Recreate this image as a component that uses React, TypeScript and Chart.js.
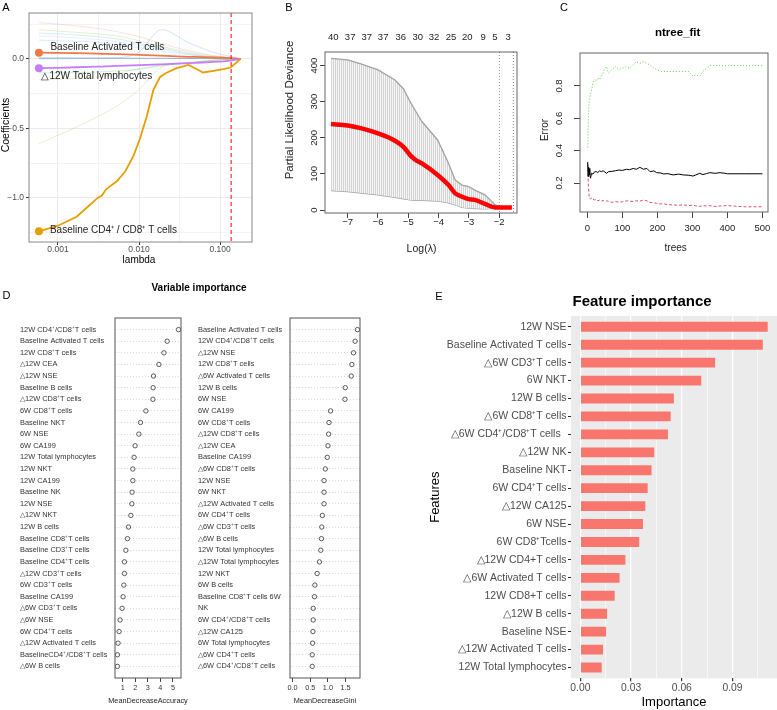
import React, { useEffect, useRef } from "react";
import { Chart, registerables } from "chart.js";

Chart.register(...registerables);

const FONT = "'Liberation Sans', Arial, Helvetica, sans-serif";

/* ---------------- Panel A: LASSO coefficient paths ---------------- */
const lambdaA = [0.000582, 0.001, 0.0017, 0.00237, 0.00309, 0.00347, 0.00389, 0.00531, 0.00676, 0.00851, 0.0102, 0.01245, 0.0151, 0.0182, 0.0219, 0.0292, 0.0407, 0.049, 0.0617, 0.0832, 0.1096, 0.1355, 0.18];
const coefCd4Cd8A = [-1.24, -1.2, -1.135, -1.06, -1.0, -0.985, -0.94, -0.88, -0.81, -0.7, -0.58, -0.415, -0.22, -0.13, -0.1, -0.067, -0.043, -0.067, -0.098, -0.086, -0.074, -0.062, 0];
const coefActivatedA = [0.045, 0.043, 0.041, 0.04, 0.038, 0.037, 0.036, 0.034, 0.032, 0.03, 0.029, 0.027, 0.025, 0.023, 0.021, 0.018, 0.015, 0.014, 0.012, 0.01, 0.008, 0.005, 0];
const coefTotalLymA = [-0.067, -0.064, -0.06, -0.058, -0.056, -0.055, -0.054, -0.051, -0.049, -0.047, -0.045, -0.043, -0.041, -0.039, -0.037, -0.034, -0.031, -0.029, -0.026, -0.022, -0.018, -0.012, 0];
const lambdaFaintA = [0.000582, 0.001, 0.003, 0.006, 0.01, 0.019, 0.04, 0.08, 0.18];
const faintPinkA = [0.26, 0.25, 0.22, 0.19, 0.16, 0.11, 0.06, 0.025, 0];
const faintGreenA = [0.21, 0.2, 0.18, 0.16, 0.13, 0.09, 0.05, 0.02, 0];
const faintTealA = [0.185, 0.18, 0.16, 0.14, 0.11, 0.08, 0.04, 0.015, 0];
const faintLilacA = [0.165, 0.16, 0.14, 0.12, 0.1, 0.07, 0.035, 0.012, 0];
const faintBlueA = [0.135, 0.13, 0.12, 0.1, 0.08, 0.055, 0.03, 0.01, 0];
const faintPeakA = [0.0, 0.0, 0.005, 0.01, 0.05, 0.21, 0.12, 0.05, 0];
const faintSteelA = [0.006, 0.006, 0.005, 0.005, 0.004, 0.004, 0.003, 0.002, 0];
const faintNeg1A = [-0.1, -0.1, -0.095, -0.085, -0.075, -0.05, -0.03, -0.012, 0];
const faintNeg2A = [-0.15, -0.145, -0.13, -0.1, -0.07, -0.045, -0.025, -0.01, 0];
const faintDeepA = [-0.61, -0.55, -0.42, -0.32, -0.22, -0.06, -0.03, -0.01, 0];
const lambdaMinA = 0.137;
const lambdaTickA = [0.001, 0.01, 0.1];
const lambdaTickLabelA = ["0.001", "0.010", "0.100"];
const lambdaMinorA = [0.003162, 0.03162];
const coefTickA = [-1, -0.5, 0];
const coefTickLabelA = ["\u22121.0", "\u22120.5", "0.0"];
const coefMinorA = [-1.25, -0.75, -0.25, 0.25];
const pathLabelsA = ["Baseline Activated T cells", "\u25B312W Total lymphocytes", "Baseline CD4\u207A / CD8\u207A T cells"];

/* ---------------- Panel B: cv.glmnet deviance ---------------- */
const logLambdaB = [-7.55, -7.0, -6.54, -6.0, -5.44, -5.16, -4.94, -4.78, -4.55, -4.03, -3.67, -3.45, -3.23, -3.01, -2.8, -2.47, -2.13, -2.0, -1.58];
const devMeanB = [238, 234, 226, 212, 192, 175, 152, 140, 129, 97, 69, 46, 37, 30, 28, 17, 7, 7, 7];
const devUpperB = [420, 416, 404, 388, 360, 336, 300, 277, 245, 194, 129, 83, 69, 65, 55, 42, 14, 9, 7];
const devLowerB = [54, 51, 47, 42, 35, 31, 28, 27, 27, 25, 20, 14, 7, 5, 4, 3, 5, 6, 7];
const logLambdaTickB = [-7, -6, -5, -4, -3, -2];
const devTickB = [0, 100, 200, 300, 400];
const nonzeroCountB = ["40", "37", "37", "37", "36", "30", "32", "25", "20", "9", "5", "3"];
const nonzeroPosB = [-7.475, -6.92, -6.37, -5.83, -5.25, -4.69, -4.15, -3.59, -3.05, -2.53, -2.14, -1.7];
const lambdaLinesB = [-1.99, -1.53];

/* ---------------- Panel C: random forest error ---------------- */
const treesC = [1, 2, 3, 5, 7, 9, 12, 16, 21, 26, 30, 35, 40, 45, 50, 55, 60, 70, 80, 90, 100, 112, 120, 131, 140, 150, 160, 170, 179, 190, 198, 210, 217, 230, 245, 260, 274, 290, 302, 310, 321, 330, 340, 350, 365, 379, 393, 400, 450, 500];
const oobErrC = [0.33, 0.24, 0.3, 0.29, 0.25, 0.23, 0.26, 0.255, 0.27, 0.27, 0.265, 0.275, 0.27, 0.276, 0.268, 0.26, 0.27, 0.272, 0.276, 0.28, 0.278, 0.285, 0.282, 0.29, 0.285, 0.297, 0.285, 0.29, 0.27, 0.275, 0.264, 0.262, 0.256, 0.258, 0.25, 0.255, 0.25, 0.248, 0.243, 0.25, 0.26, 0.252, 0.258, 0.264, 0.26, 0.264, 0.26, 0.257, 0.257, 0.257];
const class1ErrC = [0.32, 0.25, 0.18, 0.12, 0.105, 0.1, 0.11, 0.1, 0.095, 0.1, 0.09, 0.095, 0.088, 0.092, 0.085, 0.09, 0.087, 0.08, 0.085, 0.082, 0.084, 0.09, 0.088, 0.085, 0.09, 0.088, 0.095, 0.09, 0.08, 0.078, 0.074, 0.07, 0.072, 0.066, 0.065, 0.062, 0.065, 0.06, 0.064, 0.058, 0.055, 0.06, 0.058, 0.06, 0.055, 0.058, 0.06, 0.06, 0.053, 0.053];
const class2ErrC = [0.42, 0.5, 0.6, 0.71, 0.73, 0.75, 0.77, 0.82, 0.84, 0.83, 0.85, 0.84, 0.86, 0.88, 0.91, 0.92, 0.88, 0.9, 0.92, 0.9, 0.91, 0.92, 0.91, 0.93, 0.95, 0.94, 0.95, 0.94, 0.93, 0.91, 0.9, 0.89, 0.89, 0.89, 0.89, 0.89, 0.89, 0.89, 0.86, 0.87, 0.86, 0.89, 0.91, 0.926, 0.926, 0.926, 0.926, 0.926, 0.926, 0.926];
const treeTickC = [0, 100, 200, 300, 400, 500];
const errTickC = [0.2, 0.4, 0.6, 0.8];

/* ---------------- Panel D: variable importance ---------------- */
const accNames = ["12W CD4\u207A/CD8\u207AT cells", "Baseline Activated T cells", "12W CD8\u207AT cells", "\u25B312W CEA", "\u25B312W NSE", "Baseline B cells", "\u25B312W CD8\u207AT cells", "6W CD8\u207AT cells", "Baseline NKT", "6W NSE", "6W CA199", "12W Total lymphocytes", "12W NKT", "12W CA199", "Baseline NK", "12W NSE", "\u25B312W NKT", "12W B cells", "Baseline CD8\u207AT cells", "Baseline CD3\u207AT cells", "Baseline CD4\u207AT cells", "\u25B312W CD3\u207AT cells", "6W CD3\u207AT cells", "Baseline CA199", "\u25B36W CD3\u207AT cells", "\u25B36W NSE", "6W CD4\u207AT cells", "\u25B312W Activated T cells", "BaselineCD4\u207A/CD8\u207AT cells", "\u25B36W B cells"];
const accValues = [5.45, 4.54, 4.28, 3.88, 3.45, 3.42, 3.4, 2.84, 2.41, 2.28, 1.98, 1.9, 1.8, 1.8, 1.74, 1.72, 1.64, 1.45, 1.37, 1.24, 1.13, 1.13, 1.08, 1.02, 0.94, 0.78, 0.7, 0.62, 0.57, 0.57];
const accTicks = [1, 2, 3, 4, 5];
const accTickLabels = ["1", "2", "3", "4", "5"];
const giniNames = ["Baseline Activated T cells", "12W CD4\u207A/CD8\u207AT cells", "\u25B312W NSE", "12W CD8\u207AT cells", "\u25B36W Activated T cells", "12W B cells", "6W NSE", "6W CA199", "6W CD8\u207AT cells", "\u25B312W CD8\u207AT cells", "\u25B312W CEA", "Baseline CA199", "\u25B36W CD8\u207AT cells", "12W NSE", "6W NKT", "\u25B312W Activated T cells", "6W CD4\u207AT cells", "\u25B36W CD3\u207AT cells", "\u25B36W B cells", "12W Total lymphocytes", "\u25B312W Total lymphocytes", "12W NKT", "6W B cells", "Baseline CD8\u207AT cells 6W", "NK", "6W CD4\u207A/CD8\u207AT cells", "\u25B312W CA125", "6W Total lymphocytes", "\u25B36W CD4\u207AT cells", "\u25B36W CD4\u207A/CD8\u207AT cells"];
const giniValues = [1.834, 1.77, 1.723, 1.677, 1.658, 1.49, 1.482, 1.075, 1.03, 1.019, 1.0, 0.98, 0.926, 0.89, 0.89, 0.89, 0.843, 0.825, 0.816, 0.797, 0.76, 0.695, 0.63, 0.62, 0.584, 0.584, 0.575, 0.566, 0.556, 0.556];
const giniTicks = [0, 0.5, 1, 1.5];
const giniTickLabels = ["0.0", "0.5", "1.0", "1.5"];

/* ---------------- Panel E: feature importance ---------------- */
const featNames = ["12W NSE", "Baseline Activated T cells", "\u25B36W CD3\u207AT cells", "6W NKT", "12W B cells", "\u25B36W CD8\u207AT cells", "\u25B36W CD4\u207A/CD8\u207AT cells  ", "\u25B312W NK", "Baseline NKT", "6W CD4\u207AT cells", "\u25B312W CA125", "6W NSE", "6W CD8\u207ATcells", "\u25B312W CD4+T cells", "\u25B36W Activated T cells", "12W CD8+T cells", "\u25B312W B cells", "Baseline NSE", "\u25B312W Activated T cells", "12W Total lymphocytes"];
const featValues = [0.1108, 0.1079, 0.0797, 0.0715, 0.0553, 0.0534, 0.0518, 0.0437, 0.0421, 0.0398, 0.0384, 0.037, 0.0348, 0.0266, 0.0232, 0.0203, 0.0158, 0.0152, 0.0134, 0.0126];
const featTicks = [0, 0.03, 0.06, 0.09];
const featTickLabels = ["0.00", "0.03", "0.06", "0.09"];
const featMinor = [0.015, 0.045, 0.075, 0.105];

/* ---------------- helpers ---------------- */
type Item = { t: string; x: number; y: number; s: number; c?: string; w?: string; a?: CanvasTextAlign; r?: number };

function textLayer(id: string, get: (chart: any) => Item[]) {
  return {
    id,
    afterDraw(chart: any) {
      const ctx = chart.ctx as CanvasRenderingContext2D;
      for (const it of get(chart)) {
        ctx.save();
        ctx.translate(it.x, it.y);
        if (it.r) ctx.rotate(it.r);
        ctx.font = `${it.w || "normal"} ${it.s}px ${FONT}`;
        ctx.fillStyle = it.c || "#000";
        ctx.textAlign = it.a || "center";
        ctx.textBaseline = "middle";
        ctx.fillText(it.t, 0, 0);
        ctx.restore();
      }
    },
  };
}

function frame(color: string, width = 1) {
  return {
    id: "frame",
    afterDatasetsDraw(chart: any) {
      const a = chart.chartArea;
      const ctx = chart.ctx as CanvasRenderingContext2D;
      ctx.save();
      ctx.strokeStyle = color;
      ctx.lineWidth = width;
      ctx.strokeRect(a.left, a.top, a.right - a.left, a.bottom - a.top);
      ctx.restore();
    },
  };
}

const setTicks = (vals: number[]) => (s: any) => {
  s.ticks = vals.map((v) => ({ value: v }));
};
const labelFor = (vals: number[], labels: string[]) => (v: any) => {
  const i = vals.indexOf(Number(v));
  return i >= 0 ? labels[i] : "";
};
const pts = (xs: number[], ys: number[]) => xs.map((x, i) => ({ x, y: ys[i] }));
const minusFmt = (v: any) => (Number(v) < 0 ? "\u2212" + Math.abs(Number(v)) : String(v));

function baseOptions(padding: any) {
  return {
    responsive: false,
    maintainAspectRatio: false,
    animation: false,
    devicePixelRatio: 1,
    events: [],
    layout: { padding },
    plugins: { legend: { display: false }, tooltip: { enabled: false }, title: { display: false } },
  };
}

function rotatedYLabels(vals: number[], x: number, size: number, fmt: (v: number) => string) {
  return (chart: any): Item[] =>
    vals.map((v) => ({ t: fmt(v), x, y: chart.scales.y.getPixelForValue(v), s: size, c: "#222", r: -Math.PI / 2 }));
}

/* ---------------- Panel A ---------------- */
function makeA(): any {
  const faint: [number[], string][] = [
    [faintPinkA, "rgba(248,118,109,0.22)"],
    [faintGreenA, "rgba(124,174,0,0.2)"],
    [faintTealA, "rgba(0,191,196,0.2)"],
    [faintLilacA, "rgba(199,124,255,0.18)"],
    [faintBlueA, "rgba(0,169,255,0.18)"],
    [faintPeakA, "rgba(97,156,255,0.28)"],
    [faintSteelA, "rgba(70,130,180,0.55)"],
    [faintNeg1A, "rgba(0,186,56,0.2)"],
    [faintNeg2A, "rgba(183,159,0,0.18)"],
    [faintDeepA, "rgba(124,174,0,0.2)"],
  ];
  const datasets: any[] = faint.map(([ys, c]) => ({
    data: pts(lambdaFaintA, ys),
    borderColor: c,
    borderWidth: 1,
    pointRadius: 0,
    showLine: true,
    cubicInterpolationMode: "monotone",
  }));
  const main: [number[], string][] = [
    [coefActivatedA, "#F0774A"],
    [coefTotalLymA, "#C77CFF"],
    [coefCd4Cd8A, "#E69F00"],
  ];
  main.forEach(([ys, c]) =>
    datasets.unshift({
      data: pts(lambdaA, ys),
      borderColor: c,
      backgroundColor: c,
      borderWidth: 1.8,
      showLine: true,
      pointRadius: ys.map((_, i) => (i === 0 ? 4 : 0)),
      pointBorderWidth: 0,
    })
  );
  const xGrid = [...lambdaTickA, ...lambdaMinorA].sort((a, b) => a - b);
  const yGrid = [...coefTickA, ...coefMinorA].sort((a, b) => a - b);
  const opts: any = baseOptions({ left: 0, top: 13, right: 8, bottom: 0 });
  opts.scales = {
    x: {
      type: "logarithmic",
      min: 0.000439,
      max: 0.248,
      afterBuildTicks: setTicks(xGrid),
      afterFit: (s: any) => { s.height = 38; },
      ticks: { callback: labelFor(lambdaTickA, lambdaTickLabelA), font: { family: FONT, size: 8.5 }, color: "#4D4D4D", padding: 0, autoSkip: false, maxRotation: 0 },
      grid: {
        color: "#EBEBEB",
        lineWidth: (c: any) => (lambdaTickA.includes(c.tick?.value) ? 1 : 0.6),
        tickLength: 3,
        tickColor: (c: any) => (lambdaTickA.includes(c.tick?.value) ? "#333" : "rgba(0,0,0,0)"),
      },
      border: { display: false },
    },
    y: {
      min: -1.317,
      max: 0.33,
      afterBuildTicks: setTicks(yGrid),
      afterFit: (s: any) => { s.width = 29; },
      ticks: { callback: labelFor(coefTickA, coefTickLabelA), font: { family: FONT, size: 8.5 }, color: "#4D4D4D", padding: 2, autoSkip: false },
      grid: {
        color: "#EBEBEB",
        lineWidth: (c: any) => (coefTickA.includes(c.tick?.value) ? 1 : 0.6),
        tickLength: 3,
        tickColor: (c: any) => (coefTickA.includes(c.tick?.value) ? "#333" : "rgba(0,0,0,0)"),
      },
      border: { display: false },
    },
  };
  const vline = {
    id: "lambdaMin",
    afterDatasetsDraw(chart: any) {
      const ctx = chart.ctx as CanvasRenderingContext2D;
      const a = chart.chartArea;
      const x = chart.scales.x.getPixelForValue(lambdaMinA);
      ctx.save();
      ctx.strokeStyle = "#FF0000";
      ctx.lineWidth = 1;
      ctx.setLineDash([4, 3]);
      ctx.beginPath();
      ctx.moveTo(x, a.top);
      ctx.lineTo(x, a.bottom);
      ctx.stroke();
      ctx.restore();
    },
  };
  const texts = textLayer("textA", (chart: any) => {
    const xs = chart.scales.x, ys = chart.scales.y;
    const px = xs.getPixelForValue(lambdaA[0]);
    return [
      { t: "A", x: 6, y: 8, s: 11 },
      { t: "Coefficients", x: 6, y: 125, s: 10.5, r: -Math.PI / 2 },
      { t: "lambda", x: 139, y: 260.5, s: 10 },
      { t: pathLabelsA[0], x: px + 11.5, y: ys.getPixelForValue(coefActivatedA[0]) - 5, s: 10, a: "left", c: "#222" },
      { t: pathLabelsA[1], x: px + 2.5, y: ys.getPixelForValue(coefTotalLymA[0]) + 8, s: 10, a: "left", c: "#222" },
      { t: pathLabelsA[2], x: px + 11, y: ys.getPixelForValue(coefCd4Cd8A[0]) - 1, s: 10, a: "left", c: "#222" },
    ];
  });
  return { type: "scatter", data: { datasets }, options: opts, plugins: [vline, frame("#888"), texts] };
}

/* ---------------- Panel B ---------------- */
function makeB(): any {
  const pc = document.createElement("canvas");
  pc.width = 2;
  pc.height = 2;
  const pctx = pc.getContext("2d")!;
  pctx.fillStyle = "#f6f6f6";
  pctx.fillRect(0, 0, 2, 2);
  pctx.fillStyle = "#d3d3d3";
  pctx.fillRect(0, 0, 1, 2);
  const pattern = pctx.createPattern(pc, "repeat");
  const datasets: any[] = [
    { data: pts(logLambdaB, devMeanB), borderColor: "#FF0000", borderWidth: 4.5, pointRadius: 0, showLine: true, cubicInterpolationMode: "monotone", fill: false },
    { data: pts(logLambdaB, devUpperB), borderColor: "#a3a3a3", borderWidth: 1.3, pointRadius: 0, showLine: true, fill: "+1", backgroundColor: pattern },
    { data: pts(logLambdaB, devLowerB), borderColor: "#a3a3a3", borderWidth: 1.3, pointRadius: 0, showLine: true, fill: false },
  ];
  const opts: any = baseOptions({ left: 0, top: 52, right: 3, bottom: 0 });
  opts.scales = {
    x: {
      type: "linear",
      min: -7.75,
      max: -1.41,
      afterBuildTicks: setTicks(logLambdaTickB),
      afterFit: (s: any) => { s.height = 67; },
      ticks: { callback: minusFmt, font: { family: FONT, size: 9.5 }, color: "#222", padding: -1, autoSkip: false, maxRotation: 0 },
      grid: { drawOnChartArea: false, tickLength: 5, tickColor: "#444" },
      border: { display: false },
    },
    y: {
      min: -8.3,
      max: 437.6,
      afterBuildTicks: setTicks(devTickB),
      afterFit: (s: any) => { s.width = 70; },
      ticks: { display: false },
      grid: { drawOnChartArea: false, tickLength: 5, tickColor: "#444" },
      border: { display: false },
    },
  };
  const vlines = {
    id: "vlinesB",
    beforeDatasetsDraw(chart: any) {
      const ctx = chart.ctx as CanvasRenderingContext2D;
      const a = chart.chartArea;
      ctx.save();
      ctx.strokeStyle = "#8a8a8a";
      ctx.lineWidth = 1;
      ctx.setLineDash([1, 2]);
      for (const v of lambdaLinesB) {
        const x = chart.scales.x.getPixelForValue(v);
        ctx.beginPath();
        ctx.moveTo(x, a.top);
        ctx.lineTo(x, a.bottom);
        ctx.stroke();
      }
      ctx.restore();
    },
  };
  const yl = rotatedYLabels(devTickB, 59.5, 9.5, (v) => String(v));
  const texts = textLayer("textB", (chart: any) => [
    { t: "B", x: 34, y: 8, s: 11 },
    ...nonzeroCountB.map((t, i) => ({ t, x: chart.scales.x.getPixelForValue(nonzeroPosB[i]), y: 37.5, s: 9.5, c: "#222" })),
    ...yl(chart),
    { t: "Partial Likelihood Deviance", x: 35, y: 110, s: 11.5, r: -Math.PI / 2, c: "#222" },
    { t: "Log(\u03BB)", x: 166.5, y: 249.5, s: 10.5, c: "#222" },
  ]);
  return { type: "scatter", data: { datasets }, options: opts, plugins: [vlines, frame("#666"), texts] };
}

/* ---------------- Panel C ---------------- */
function makeC(): any {
  const datasets: any[] = [
    { data: pts(treesC, oobErrC), borderColor: "#000", borderWidth: 1, pointRadius: 0, showLine: true },
    { data: pts(treesC, class1ErrC), borderColor: "#DF536B", borderWidth: 1, borderDash: [3, 2], pointRadius: 0, showLine: true },
    { data: pts(treesC, class2ErrC), borderColor: "#61D04F", borderWidth: 1, borderDash: [1, 2], pointRadius: 0, showLine: true },
  ];
  const opts: any = baseOptions({ left: 0, top: 53, right: 9, bottom: 0 });
  opts.scales = {
    x: {
      type: "linear",
      min: -21,
      max: 516,
      afterBuildTicks: setTicks(treeTickC),
      afterFit: (s: any) => { s.height = 68; },
      ticks: { callback: (v: any) => String(v), font: { family: FONT, size: 9.5 }, color: "#222", padding: 5, autoSkip: false, maxRotation: 0 },
      grid: { drawOnChartArea: false, tickLength: 6, tickColor: "#444" },
      border: { display: false },
    },
    y: {
      min: 0.0207,
      max: 1.004,
      afterBuildTicks: setTicks(errTickC),
      afterFit: (s: any) => { s.width = 70; },
      ticks: { display: false },
      grid: { drawOnChartArea: false, tickLength: 6, tickColor: "#444" },
      border: { display: false },
    },
  };
  const yl = rotatedYLabels(errTickC, 49.5, 9.5, (v) => v.toFixed(1));
  const texts = textLayer("textC", (chart: any) => [
    { t: "C", x: 54, y: 8, s: 11 },
    { t: "ntree_fit", x: 167.7, y: 33, s: 11.5, w: "bold" },
    ...yl(chart),
    { t: "Error", x: 35.7, y: 130, s: 10, r: -Math.PI / 2, c: "#222" },
    { t: "trees", x: 165.7, y: 248, s: 10, c: "#222" },
  ]);
  return { type: "scatter", data: { datasets }, options: opts, plugins: [frame("#666"), texts] };
}

/* ---------------- Panel D ---------------- */
function makeDot(
  names: string[],
  values: number[],
  xmin: number,
  xmax: number,
  xticks: number[],
  xlabels: string[],
  padding: any,
  yWidth: number,
  extra: (chart: any) => Item[]
): any {
  const datasets: any[] = [
    {
      data: values.map((v, i) => ({ x: v, y: i + 1 })),
      pointStyle: "circle",
      pointRadius: 2.2,
      pointBorderWidth: 0.8,
      borderColor: "#333",
      backgroundColor: "rgba(0,0,0,0)",
      showLine: false,
    },
  ];
  const opts: any = baseOptions(padding);
  opts.scales = {
    x: {
      type: "linear",
      min: xmin,
      max: xmax,
      afterBuildTicks: setTicks(xticks),
      afterFit: (s: any) => { s.height = 32; },
      ticks: { callback: labelFor(xticks, xlabels), font: { family: FONT, size: 7.3 }, color: "#333", padding: 1.5, autoSkip: false, maxRotation: 0 },
      grid: { drawOnChartArea: false, tickLength: 4, tickColor: "#444" },
      border: { display: false },
    },
    y: {
      type: "linear",
      reverse: true,
      min: 0,
      max: 31,
      afterBuildTicks: setTicks(names.map((_, i) => i + 1)),
      afterFit: (s: any) => { s.width = yWidth; },
      ticks: { callback: (v: any) => names[Number(v) - 1] || "", font: { family: FONT, size: 7.4 }, color: "#333", autoSkip: false, crossAlign: "far" },
      grid: { drawOnChartArea: true, drawTicks: false, color: "#cfcfcf", lineWidth: 0.8, borderDash: [1, 2] },
      border: { display: false, dash: [1, 2] },
    },
  };
  return { type: "scatter", data: { datasets }, options: opts, plugins: [frame("#555"), textLayer("textD", extra)] };
}

function makeDLeft(): any {
  return makeDot(accNames, accValues, 0.375, 5.645, accTicks, accTickLabels, { left: 20, top: 38, right: 189, bottom: 0 }, 95, () => [
    { t: "D", x: 6.5, y: 16, s: 11 },
    { t: "Variable importance", x: 199, y: 8.5, s: 10, w: "bold" },
    { t: "MeanDecreaseAccuracy", x: 148, y: 420.7, s: 7.3, c: "#222" },
  ]);
}

function makeDRight(): any {
  return makeDot(giniNames, giniValues, -0.073, 1.907, giniTicks, giniTickLabels, { left: 18, top: 38, right: 10, bottom: 0 }, 92, () => [
    { t: "MeanDecreaseGini", x: 145, y: 420.5, s: 7.3, c: "#222" },
  ]);
}

/* ---------------- Panel E ---------------- */
function makeE(): any {
  const datasets: any[] = [
    {
      data: featValues.map((v, i) => ({ x: v, y: i + 1 })),
      backgroundColor: "#F8766D",
      borderWidth: 0,
      barPercentage: 0.55,
      categoryPercentage: 1,
    },
  ];
  const xGrid = [...featTicks, ...featMinor].sort((a, b) => a - b);
  const opts: any = baseOptions({ left: 0, top: 36, right: 0, bottom: 0 });
  opts.indexAxis = "y";
  opts.scales = {
    x: {
      type: "linear",
      min: -0.00554,
      max: 0.1163,
      afterBuildTicks: setTicks(xGrid),
      afterFit: (s: any) => { s.height = 31.7; },
      ticks: { callback: labelFor(featTicks, featTickLabels), font: { family: FONT, size: 10.3 }, color: "#4D4D4D", padding: 1, autoSkip: false, maxRotation: 0 },
      grid: {
        color: "#FFFFFF",
        lineWidth: (c: any) => (featTicks.includes(c.tick?.value) ? 1.2 : 0.6),
        tickLength: 3,
        tickColor: (c: any) => (featTicks.includes(c.tick?.value) ? "#333" : "rgba(0,0,0,0)"),
      },
      border: { display: false },
    },
    y: {
      type: "linear",
      reverse: true,
      min: 0.4,
      max: 20.6,
      offset: false,
      afterBuildTicks: setTicks(featNames.map((_, i) => i + 1)),
      afterFit: (s: any) => { s.width = 186; },
      ticks: { callback: (v: any) => featNames[Number(v) - 1] || "", font: { family: FONT, size: 10.5 }, color: "#4D4D4D", padding: 1.5, autoSkip: false },
      grid: { drawOnChartArea: false, offset: false, tickLength: 3, tickColor: "#333" },
      border: { display: false },
    },
  };
  const bg = {
    id: "panelBg",
    beforeDraw(chart: any) {
      const a = chart.chartArea;
      const ctx = chart.ctx as CanvasRenderingContext2D;
      ctx.save();
      ctx.fillStyle = "#EBEBEB";
      ctx.fillRect(a.left, a.top, a.right - a.left, a.bottom - a.top);
      ctx.restore();
    },
  };
  const texts = textLayer("textE", (chart: any) => {
    const a = chart.chartArea;
    return [
      { t: "E", x: 54, y: 17, s: 11 },
      { t: "Feature importance", x: a.left + 1.5, y: 21.7, s: 15, w: "bold", a: "left" },
      { t: "Features", x: 50, y: (a.top + a.bottom) / 2, s: 13, r: -Math.PI / 2 },
      { t: "Importance", x: (a.left + a.right) / 2, y: 422, s: 13 },
    ];
  });
  return { type: "bar", data: { datasets }, options: opts, plugins: [bg, texts] };
}

/* ---------------- components ---------------- */
function ChartCanvas({ x, y, w, h, make }: { x: number; y: number; w: number; h: number; make: () => any }) {
  const ref = useRef<HTMLCanvasElement | null>(null);
  useEffect(() => {
    if (!ref.current) return;
    const chart = new Chart(ref.current, make());
    return () => chart.destroy();
  }, []);
  return <canvas ref={ref} width={w} height={h} style={{ position: "absolute", left: x, top: y, width: w, height: h }} />;
}

export default function App() {
  return (
    <div style={{ position: "absolute", left: 0, top: 0, width: 777, height: 710, background: "#fff", overflow: "hidden" }}>
      <ChartCanvas x={0} y={0} w={260} h={280} make={makeA} />
      <ChartCanvas x={255} y={0} w={265} h={280} make={makeB} />
      <ChartCanvas x={510} y={0} w={267} h={280} make={makeC} />
      <ChartCanvas x={0} y={280} w={370} h={430} make={makeDLeft} />
      <ChartCanvas x={180} y={280} w={190} h={430} make={makeDRight} />
      <ChartCanvas x={385} y={280} w={392} h={430} make={makeE} />
    </div>
  );
}
